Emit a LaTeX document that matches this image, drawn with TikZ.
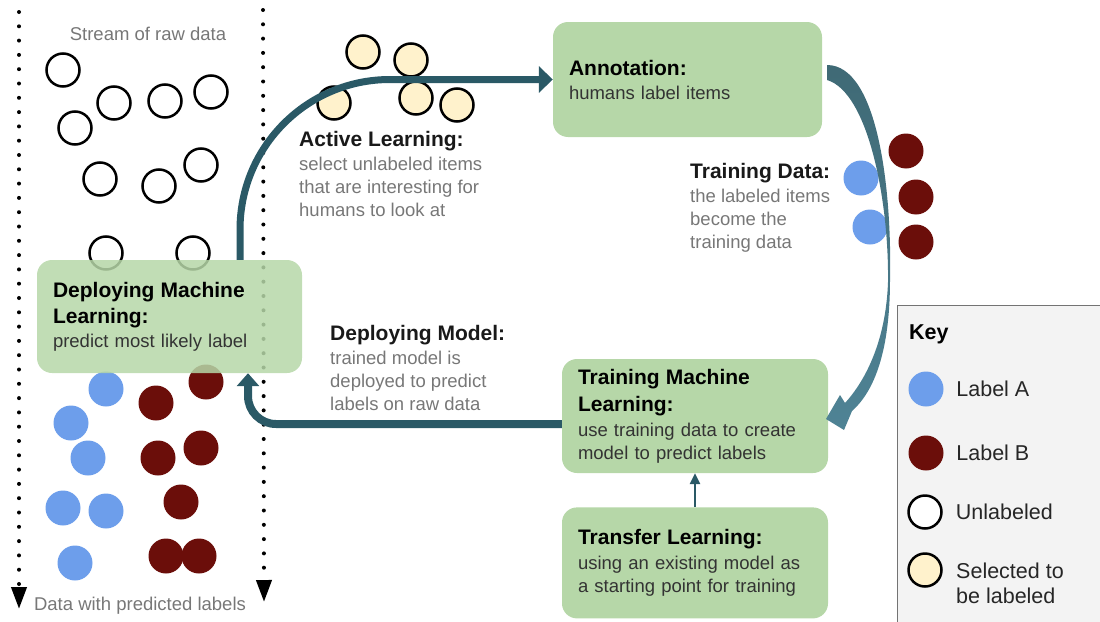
\documentclass[tikz,border=0pt]{standalone}
\usepackage{fontspec}
\setmainfont{Liberation Sans}
\usepackage{xcolor}
\usetikzlibrary{arrows.meta,positioning}
\definecolor{boxgreen}{HTML}{B6D7A8}
\definecolor{flowteal}{HTML}{2A5966}
\definecolor{crescbot}{HTML}{4F8395}
\definecolor{labelA}{HTML}{6D9EEB}
\definecolor{labelB}{HTML}{6B0E0A}
\definecolor{selyellow}{HTML}{FFF2CC}
\definecolor{notegray}{HTML}{777777}
\definecolor{keybg}{HTML}{F3F3F3}
\newcommand{\ttl}{\fontsize{21}{26}\selectfont\bfseries}
\newcommand{\bdy}{\fontsize{18.5}{23}\selectfont}
\newcommand{\keyfont}{\fontsize{21.5}{25}\selectfont}

\begin{document}
\begin{tikzpicture}[
    x=1pt, y=-1pt,
    stage/.style={fill=boxgreen, rounded corners=15pt, align=left, inner xsep=16pt, inner ysep=0pt, font=\bdy, text=black!80},
    note/.style={anchor=north west, align=left, inner sep=0pt, font=\bdy, text=notegray},
    unl/.style={circle, draw=black, line width=2.5pt, fill=white, minimum size=33pt, inner sep=0pt},
    sel/.style={unl, fill=selyellow},
    dotA/.style={circle, fill=labelA, minimum size=35pt, inner sep=0pt},
    dotB/.style={dotA, fill=labelB},
    flow/.style={draw=flowteal, line width=7pt},
    stream/.style={line width=4pt, line cap=round, dash pattern=on 0pt off 14.3pt, -{Triangle[width=15pt,length=22pt]}}
]
\useasboundingbox (0,0) rectangle (1100,621);

% raw data stream
\coordinate (streamL0) at (19,12);
\coordinate (streamL1) at (19,609);
\coordinate (streamR0) at (263,10);
\coordinate (streamR1) at (264,602);
\draw[stream] (streamL0) -- (streamL1);
\draw[stream] (streamR0) -- (streamR1);
\node[anchor=north, inner sep=0pt, font=\bdy, text=notegray] (streamtop) at (148,27) {Stream of raw data};
\node[anchor=north, inner sep=0pt, font=\bdy, text=notegray] (streambot) at (140,597) {Data with predicted labels};

% unlabeled items
\node[unl] (raw1) at (63,70) {};
\node[unl] (raw2) at (114,103) {};
\node[unl] (raw3) at (165,101) {};
\node[unl] (raw4) at (211,92) {};
\node[unl] (raw5) at (75,128) {};
\node[unl] (raw6) at (100,179) {};
\node[unl] (raw7) at (159,186) {};
\node[unl] (raw8) at (201,165) {};
\node[unl] (raw9) at (106,253) {};
\node[unl] (raw10) at (193,253) {};

% predicted items
\node[dotA] (predA1) at (106,389) {};
\node[dotA] (predA2) at (71,423) {};
\node[dotA] (predA3) at (88,458) {};
\node[dotA] (predA4) at (63,508) {};
\node[dotA] (predA5) at (106,511) {};
\node[dotA] (predA6) at (75,563) {};
\node[dotB] (predB1) at (206,382) {};
\node[dotB] (predB2) at (156,403) {};
\node[dotB] (predB3) at (201,448) {};
\node[dotB] (predB4) at (158,458) {};
\node[dotB] (predB5) at (181,502) {};
\node[dotB] (predB6) at (166,556) {};
\node[dotB] (predB7) at (199,556) {};

% selected items
\node[sel] (pick1) at (363,52) {};
\node[sel] (pick2) at (411,60) {};
\node[sel] (pick3) at (334,103) {};
\node[sel] (pick4) at (416,98) {};
\node[sel] (pick5) at (457,105) {};

% training data items
\node[dotA] (tdA1) at (861,178) {};
\node[dotA] (tdA2) at (870,227) {};
\node[dotB] (tdB1) at (906,151) {};
\node[dotB] (tdB2) at (916,197) {};
\node[dotB] (tdB3) at (916,242) {};

% stages
\node[stage, fill opacity=0.85, text opacity=1, text width=233pt, minimum height=113pt] (deploy) at (169.5,316.5)
    {{\ttl\color{black}Deploying Machine}\\[3pt]{\ttl\color{black}Learning:}\\[1pt]predict most likely label};
\node[stage, text width=237pt, minimum height=115pt] (annot) at (687.5,79.5)
    {{\ttl\color{black}Annotation:}\\[1pt]humans label items};
\node[stage, text width=234pt, minimum height=114pt] (train) at (695,416)
    {{\ttl\color{black}Training Machine}\\[4pt]{\ttl\color{black}Learning:}\\[2pt]use training data to create\\model to predict labels};
\node[stage, text width=234pt, minimum height=111pt, below=34pt of train] (transfer)
    {{\ttl\color{black}Transfer Learning:}\\[2pt]using an existing model as\\a starting point for training};

% notes
\node[note] (activenote) at (299,131)
    {{\ttl\color{black!90}Active Learning:}\\[1pt]select unlabeled items\\that are interesting for\\humans to look at};
\node[note] (datanote) at (690,163)
    {{\ttl\color{black!90}Training Data:}\\[1pt]the labeled items\\become the\\training data};
\node[note] (modelnote) at (330,325)
    {{\ttl\color{black!90}Deploying Model:}\\[1pt]trained model is\\deployed to predict\\labels on raw data};

% connectors
\draw[flow, rounded corners=150pt, -{Triangle[width=26pt,length=14pt]}]
    ([xshift=70.5pt]deploy.north) |- (annot.west);
\draw[flow, line width=8pt, rounded corners=28pt, -{Triangle[width=22pt,length=13pt]}]
    ([yshift=-8pt]train.west) -| ([xshift=78.5pt]deploy.south);
\draw[draw=flowteal, line width=2.5pt, -{Triangle[width=10pt,length=11pt]}]
    (transfer.north) -- (train.south);
\shade[top color=flowteal!90!white, bottom color=crescbot]
    (827,65) .. controls (878,65) and (892,190) .. (890,280)
    .. controls (890,342) and (878,388) .. (852,411)
    -- (844,430) -- (826,419) -- (840,395) -- (845,403)
    .. controls (866,380) and (886,340) .. (888,282)
    .. controls (889,200) and (868,92) .. (827,80) -- cycle;

% key
\node[draw=black!55, fill=keybg, line width=1.2pt, anchor=north west, minimum width=213pt, minimum height=325pt, inner sep=0pt] (keybox) at (897,305) {};
\node[anchor=north west, inner sep=0pt, font=\keyfont\bfseries] (keytitle) at (909,325) {Key};
\node[dotA] (keyA) at (926,389) {};
\node[dotB] (keyB) at (926,453) {};
\node[unl] (keyU) at (925,512) {};
\node[sel] (keyS) at (925,570) {};
\node[right=12.5pt of keyA, inner sep=0pt, font=\keyfont, text=black!85] (keyAtxt) {Label A};
\node[right=12.5pt of keyB, inner sep=0pt, font=\keyfont, text=black!85] (keyBtxt) {Label B};
\node[right=13pt of keyU, inner sep=0pt, font=\keyfont, text=black!85] (keyUtxt) {Unlabeled};
\node[anchor=north west, align=left, inner sep=0pt, font=\keyfont, text=black!85] (keyStxt) at (956,563) {Selected to\\be labeled};
\end{tikzpicture}
\end{document}
